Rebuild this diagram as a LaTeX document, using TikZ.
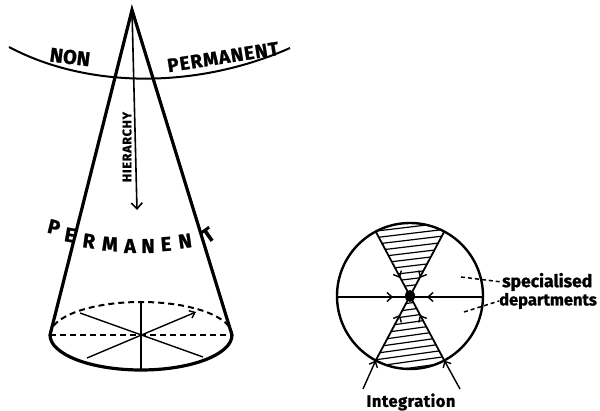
\documentclass[tikz,border=0pt]{standalone}
\usepackage{fontspec}
\setmainfont{Fira Sans}[BoldFeatures={FakeBold=1.2}]
\usetikzlibrary{arrows.meta}
\begin{document}
\begin{tikzpicture}[x=1pt,y=-1pt,
  thick line/.style={line width=3.2pt,line cap=round},
  med line/.style={line width=2pt},
  thin line/.style={line width=1.4pt},
  dashline/.style={line width=2pt,dash pattern=on 6pt off 4pt},
  caps/.style={font=\bfseries\fontsize{20}{20}\selectfont,inner sep=0pt},
  barb/.style={-{Straight Barb[length=5pt,width=9pt,line width=1.4pt]}},
  hatch/.style={line width=1.2pt}]
\useasboundingbox (0,0) rectangle (600,411);

% ---------- cone ----------
\coordinate (apex) at (132,10);
\coordinate (bl) at (50,335);
\coordinate (br) at (232,335);
\draw[med line] (9,47) .. controls (90,90) and (200,88) .. (290,48);
\draw[thick line] (bl) -- (apex) -- (br);
\draw[thick line] (bl) arc[start angle=180,end angle=0,x radius=91,y radius=35];
\draw[dashline] (bl) arc[start angle=180,end angle=360,x radius=91,y radius=33];
\draw[dashline,line width=1.6pt] (bl) -- (br);
\draw[thin line] (141,302) -- (141,370);
\draw[thin line] (80,313) -- (203,357);
\draw[thin line,-{Straight Barb[length=5pt,width=8pt,line width=1.4pt]}] (87,358) -- (196,312);

\coordinate (harr) at (137,210);
\draw[line width=1.6pt,-{Straight Barb[length=6pt,width=11pt,line width=1.6pt]}] (apex) -- (harr);
\node[font=\bfseries\fontsize{12.5}{12.5}\selectfont\addfontfeature{LetterSpace=6},rotate=90,inner sep=0pt] (hier) at (127,147) {HIERARCHY};

\node[caps,rotate=-7] (non) at (70,57) {NON};
\node[caps,rotate=9,font=\bfseries\fontsize{19}{19}\selectfont\addfontfeature{LetterSpace=5}] (nonperm) at (223,57) {PERMANENT};

% lower PERMANENT
\node[caps,rotate=-14] (p1) at (54,227) {P};
\node[caps,rotate=-10] (p2) at (70,235) {E};
\node[caps,rotate=-8] (p3) at (89,241) {R};
\node[caps,rotate=-4] (p4) at (110,244) {M};
\node[caps] (p5) at (130,246) {A};
\node[caps] (p6) at (148,246) {N};
\node[caps,rotate=4] (p7) at (166,244) {E};
\node[caps,rotate=8] (p8) at (185,241) {N};
\node[caps,rotate=35] (p9) at (208,235) {T};

% ---------- circle ----------
\coordinate (C) at (410,296);
\coordinate (UL) at (375.7,231.5);
\coordinate (UR) at (444.3,231.5);
\coordinate (LL) at (375.7,360.5);
\coordinate (LR) at (444.3,360.5);
\begin{scope}
  \clip (C) -- (UL) arc[start angle=-118,end angle=-62,radius=73] -- cycle;
  \foreach \y in {214,220.5,...,300} \draw[hatch] (360,\y+6) -- (460,\y-6);
\end{scope}
\begin{scope}
  \clip (C) -- (LR) arc[start angle=62,end angle=118,radius=73] -- cycle;
  \foreach \y in {290,296.5,...,380} \draw[hatch] (360,\y+7) -- (460,\y-7);
\end{scope}
\draw[line width=2.4pt] (C) circle[radius=73];
\draw[thin line] (337,297) -- (483,297);
\draw[line width=1.8pt] (UL) -- (LR);
\draw[line width=1.8pt] (UR) -- (LL);
\fill (C) ellipse[x radius=5,y radius=6];

\draw[barb] (386,297) -- (393,297);
\draw[barb] (434,297) -- (427,297);
\draw[barb] (396.5,271) -- (400,278);
\draw[barb] (423.5,271) -- (420,278);
\draw[barb] (396.5,322) -- (400,315);
\draw[barb] (423.5,322) -- (420,315);

\coordinate (ia) at (363,389);
\coordinate (ib) at (460,389);
\draw[thin line,barb] (ia) -- (LL);
\draw[thin line,barb] (ib) -- (LR);
\node[font=\bfseries\fontsize{16.5}{16.5}\selectfont\addfontfeature{LetterSpace=3},inner sep=0pt] (integ) at (411,402) {Integration};

\node[font=\bfseries\fontsize{17.5}{17.5}\selectfont,anchor=west,inner sep=0pt] (spec) at (502,282) {specialised};
\node[font=\bfseries\fontsize{16.5}{16.5}\selectfont,anchor=west,inner sep=0pt] (dept) at (499,301) {departments};
\coordinate (s1) at (461,277);
\coordinate (s2) at (464,312);
\draw[line width=1.5pt,dash pattern=on 4pt off 3pt] (s1) -- (spec.west);
\draw[line width=1.5pt,dash pattern=on 4pt off 3pt] (s2) -- (dept.west);
\end{tikzpicture}
\end{document}
